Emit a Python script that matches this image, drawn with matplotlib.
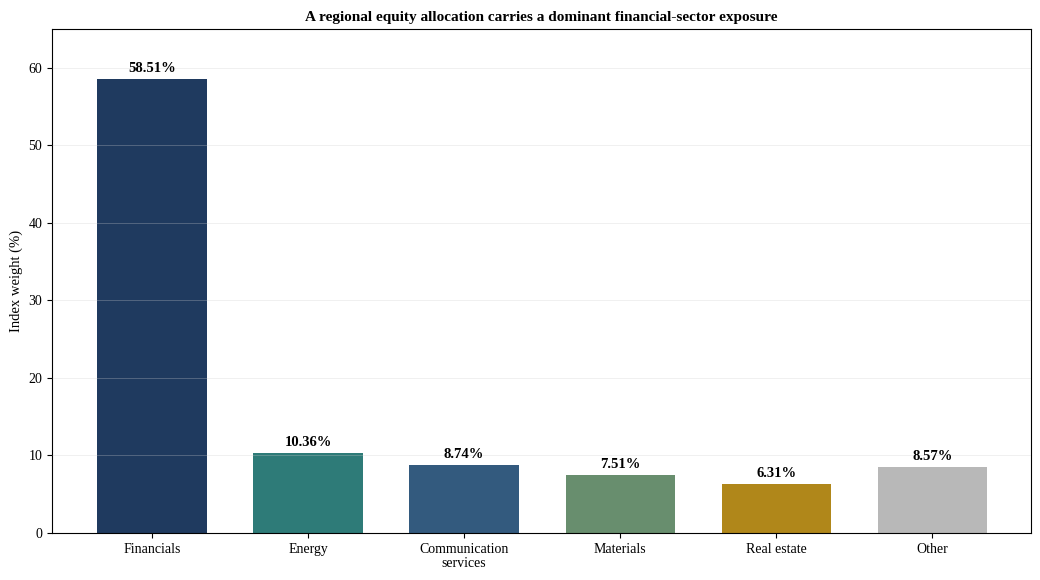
import matplotlib
matplotlib.use("Agg")
import matplotlib.pyplot as plt

plt.rcParams['font.family'] = ['Liberation Serif', 'DejaVu Serif']

# sector weights
sectors = ["Financials", "Energy", "Communication\nservices", "Materials", "Real estate", "Other"]
weights = [58.51, 10.36, 8.74, 7.51, 6.31, 8.57]
colors = ["#1f3a5f", "#2e7b78", "#335a7e", "#688e6e", "#b0871a", "#b8b8b8"]

fig, ax = plt.subplots(figsize=(10.4, 5.8), dpi=100)
fig.subplots_adjust(left=0.05, right=0.991, top=0.95, bottom=0.081)

x = range(len(sectors))
bars = ax.bar(x, weights, width=0.7, color=colors, zorder=2)

for b, v in zip(bars, weights):
    ax.text(b.get_x() + b.get_width() / 2, v + 0.5, f"{v:.2f}%",
            ha="center", va="bottom", fontsize=10.5, fontweight="bold")

ax.set_xticks(list(x))
ax.set_xticklabels(sectors, fontsize=10, linespacing=1.15)
ax.tick_params(axis="y", labelsize=10)
ax.set_xlim(-0.64, 5.63)
ax.set_ylim(0, 65)
ax.set_ylabel("Index weight (%)", fontsize=10.5)
ax.set_title("A regional equity allocation carries a dominant financial-sector exposure",
             fontsize=11, fontweight="bold", pad=6)

ax.yaxis.grid(True, color="#cccccc", linewidth=0.6, alpha=0.35, zorder=3)
ax.set_axisbelow(False)

fig.savefig("out.png", dpi=100)
